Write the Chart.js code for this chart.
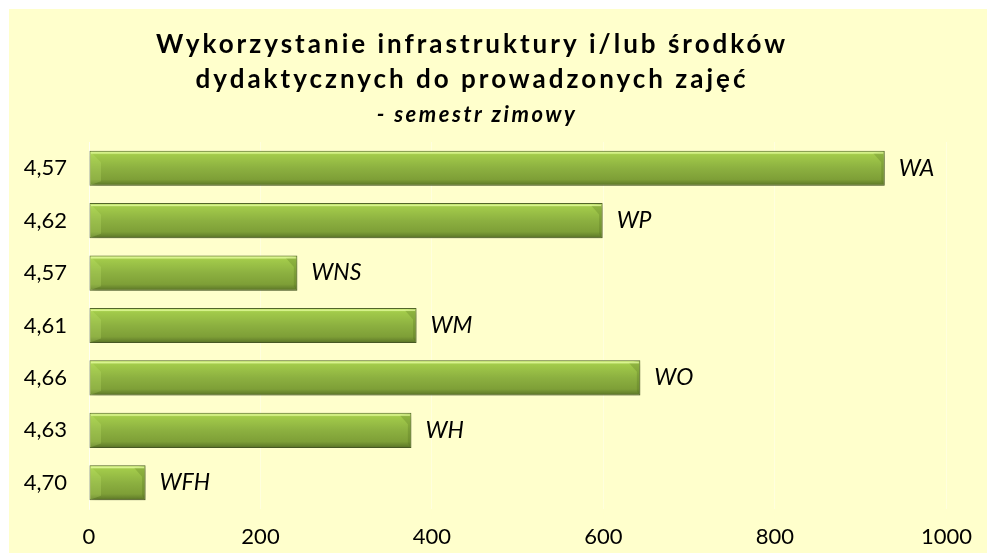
<!DOCTYPE html>
<html lang="pl">
<head>
  <meta charset="UTF-8" />
  <title>Wykorzystanie infrastruktury - semestr zimowy</title>
  <script src="https://cdn.jsdelivr.net/npm/chart.js"></script>
  <style>
    html, body {
      margin: 0;
      padding: 0;
      background: #ffffff;
    }
    .wrap {
      position: absolute;
      left: 9px;
      top: 9px;
      width: 978px;
      height: 544px;
      background: #ffffcc;
    }
  </style>
</head>
<body>
  <div class="wrap">
    <canvas id="wykres" width="978" height="544"></canvas>
  </div>

  <script>
    // dane
    const wydzialy = ['WA', 'WP', 'WNS', 'WM', 'WO', 'WH', 'WFH'];
    const oceny = ['4,57', '4,62', '4,57', '4,61', '4,66', '4,63', '4,70'];
    const liczby = [928, 599, 243, 382, 643, 376, 66];
    const podzialkaX = [0, 200, 400, 600, 800, 1000];

    const tytul = [
      'Wykorzystanie infrastruktury i/lub środków',
      'dydaktycznych do prowadzonych zajęć'
    ];
    const podtytul = '- semestr zimowy';

    const FONT = 'Lato, Carlito, Calibri, sans-serif';

    // gradient dla kazdego slupka (pionowy, jak w Excelu)
    function kolorSlupka(ctx) {
      const chart = ctx.chart;
      const y = chart.scales && chart.scales.y;
      if (!y || ctx.dataIndex === undefined) return '#8aad3e';
      const srodek = y.getPixelForValue(ctx.dataIndex);
      if (!isFinite(srodek)) return '#8aad3e';
      const h = 35;
      const g = chart.ctx.createLinearGradient(0, srodek - h / 2, 0, srodek + h / 2);
      g.addColorStop(0, '#c4e96c');
      g.addColorStop(0.12, '#a2ca4a');
      g.addColorStop(0.5, '#8cb040');
      g.addColorStop(0.82, '#7e9f37');
      g.addColorStop(0.92, '#6a872e');
      g.addColorStop(1, '#566f24');
      return g;
    }

    // tytul rysowany recznie, zeby miec rozstrzelone litery
    const tytulPlugin = {
      id: 'tytulPlugin',
      afterDraw(chart) {
        const c = chart.ctx;
        c.save();
        c.fillStyle = '#000000';
        c.textAlign = 'center';
        c.textBaseline = 'middle';
        c.letterSpacing = '3px';
        c.font = 'bold 26px ' + FONT;
        c.fillText(tytul[0], 463, 36);
        c.fillText(tytul[1], 463, 71);
        c.letterSpacing = '2.5px';
        c.font = 'italic bold 22px ' + FONT;
        c.fillText(podtytul, 468, 106);
        c.restore();
      }
    };

    // cien pod slupkami
    const cienPlugin = {
      id: 'cienPlugin',
      beforeDatasetsDraw(chart) {
        const c = chart.ctx;
        c.save();
        c.shadowColor = 'rgba(0,0,0,0.22)';
        c.shadowBlur = 6;
        c.shadowOffsetX = 2;
        c.shadowOffsetY = 3;
      },
      afterDatasetsDraw(chart) {
        chart.ctx.restore();
      }
    };

    // delikatne fazowanie: jasny trojkat z lewej, ciemniejszy z prawej
    const fazaPlugin = {
      id: 'fazaPlugin',
      afterDatasetsDraw(chart) {
        const c = chart.ctx;
        const meta = chart.getDatasetMeta(0);
        function wielokat(pts, kolor) {
          c.beginPath();
          c.moveTo(pts[0][0], pts[0][1]);
          for (let k = 1; k < pts.length; k++) c.lineTo(pts[k][0], pts[k][1]);
          c.closePath();
          c.fillStyle = kolor;
          c.fill();
        }
        c.save();
        meta.data.forEach(bar => {
          const x0 = bar.base + 0.5, x1 = bar.x - 0.5;
          const yt = bar.y - bar.height / 2 + 0.5, yb = bar.y + bar.height / 2 - 0.5;
          const bb = Math.min(11, (x1 - x0) / 2);
          wielokat([[x0, yt], [x0 + bb, yt + bb], [x0 + bb, yb - 4], [x0, yb]], 'rgba(205,240,120,0.22)');
          wielokat([[x1, yt], [x1, yb], [x1 - 3, yb - 4], [x1 - 3, yt + bb], [x1 - bb, yt + 2]], 'rgba(70,95,25,0.22)');
          c.fillStyle = 'rgba(230,252,160,0.75)';
          c.fillRect(x0 + 1, yt + 1, x1 - x0 - 2, 1.5);
        });
        c.restore();
      }
    };

    // podpisy wydzialow za koncem slupka
    const etykietyPlugin = {
      id: 'etykietyPlugin',
      afterDatasetsDraw(chart) {
        const c = chart.ctx;
        const meta = chart.getDatasetMeta(0);
        c.save();
        c.fillStyle = '#000000';
        c.font = 'italic 23px ' + FONT;
        c.textAlign = 'left';
        c.textBaseline = 'middle';
        meta.data.forEach((bar, i) => {
          c.fillText(wydzialy[i], bar.x + 14, bar.y);
        });
        c.restore();
      }
    };

    new Chart(document.getElementById('wykres'), {
      type: 'bar',
      data: {
        labels: oceny,
        datasets: [{
          data: liczby,
          backgroundColor: kolorSlupka,
          borderColor: '#55692a',
          borderWidth: 1,
          borderSkipped: false,
          barPercentage: 0.67,
          categoryPercentage: 1
        }]
      },
      options: {
        indexAxis: 'y',
        responsive: false,
        animation: false,
        layout: {
          padding: { top: 133, right: 37, left: 0, bottom: 0 }
        },
        plugins: {
          legend: { display: false },
          title: { display: false },
          tooltip: { enabled: false }
        },
        scales: {
          x: {
            min: 0,
            max: 1000,
            afterBuildTicks(scale) {
              scale.ticks = podzialkaX.map(v => ({ value: v }));
            },
            afterFit(scale) { scale.height = 44; },
            grid: {
              color: 'rgba(255,255,255,0.35)',
              drawTicks: false
            },
            border: { display: false },
            ticks: {
              padding: 15,
              color: '#000000',
              font: { family: FONT, size: 22 },
              callback: v => String(v)
            }
          },
          y: {
            afterFit(scale) { scale.width = 80; },
            grid: { display: false, drawTicks: false },
            border: { display: true, color: 'rgba(255,255,255,0.6)' },
            ticks: {
              padding: 22,
              color: '#000000',
              font: { family: FONT, size: 22 }
            }
          }
        }
      },
      plugins: [cienPlugin, fazaPlugin, etykietyPlugin, tytulPlugin]
    });
  </script>
</body>
</html>
